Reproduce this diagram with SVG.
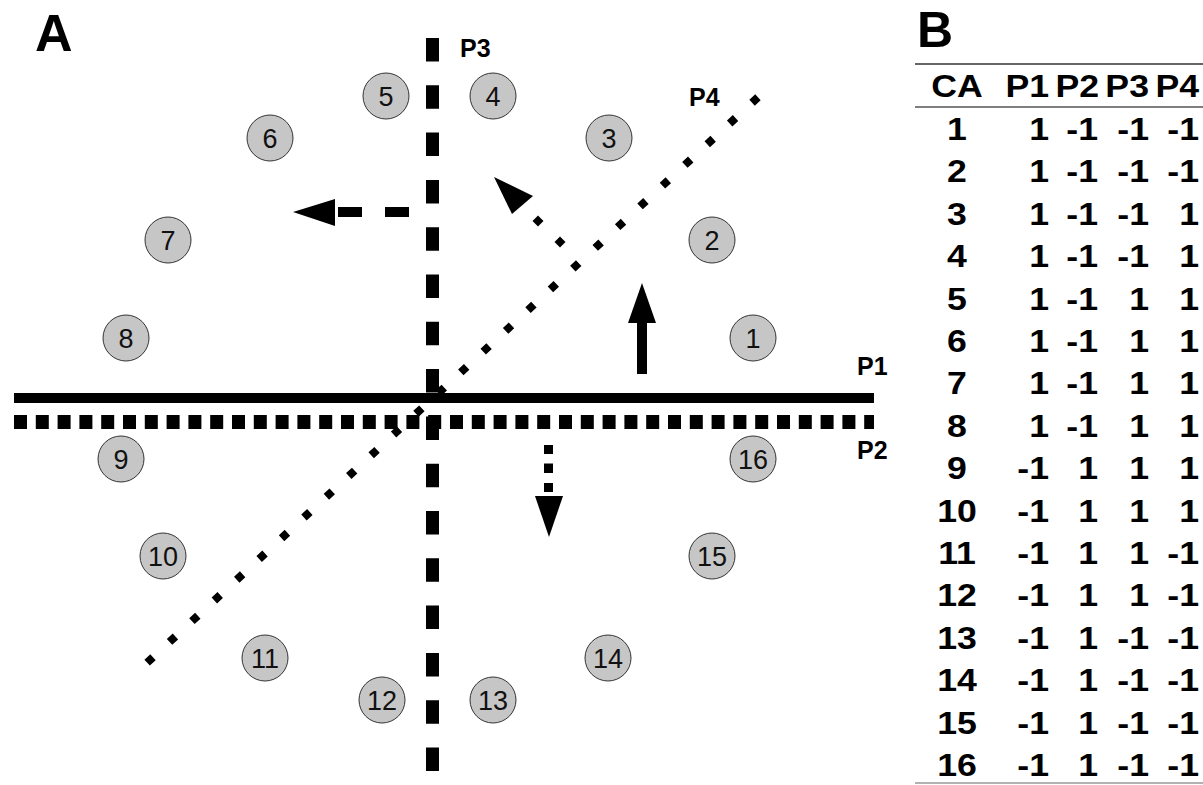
<svg xmlns="http://www.w3.org/2000/svg" width="1203" height="785" viewBox="0 0 1203 785">
<style>
.bg{fill:#fff}
.ca circle{fill:#c6c6c6;stroke:#333;stroke-width:1}
.ca text{font-family:"Liberation Sans",Arial,sans-serif;font-size:27px;fill:#111;text-anchor:middle}
.lbl{font-family:"Liberation Sans",Arial,sans-serif;font-weight:bold;fill:#000}
.plbl{font-size:25px}
.tbl text{font-family:"Liberation Sans",Arial,sans-serif;font-weight:bold;font-size:31px;fill:#000}
.c{text-anchor:middle}
.e{text-anchor:end}
.blk{fill:#000}
</style>
<rect class="bg" x="0" y="0" width="1203" height="785"/>
<text class="lbl" x="35" y="51" font-size="52">A</text>
<text class="lbl" x="917" y="47" font-size="50">B</text>

<g id="connectors">
  <line id="P1" x1="14" y1="398" x2="874" y2="398" stroke="#000" stroke-width="10"/>
  <line id="P2" x1="14" y1="422" x2="874" y2="422" stroke="#000" stroke-width="14" stroke-dasharray="13 8.8"/>
  <line id="P3" x1="432.5" y1="38" x2="432.5" y2="771" stroke="#000" stroke-width="13" stroke-dasharray="23.5 23.8"/>
  <line id="P4" x1="757.94" y1="97.28" x2="147.06" y2="662.72" stroke="#000" stroke-width="8" stroke-dasharray="8 22.53"/>
  <g id="arrow-up">
    <rect class="blk" x="637" y="321" width="10" height="53"/>
    <polygon class="blk" points="642,283 628,323 656,323"/>
  </g>
  <g id="arrow-left">
    <rect class="blk" x="338" y="207" width="24" height="10"/>
    <rect class="blk" x="385" y="207" width="24" height="10"/>
    <polygon class="blk" points="293,212 335,199 335,226"/>
  </g>
  <g id="arrow-diag">
    <polygon class="blk" points="538,215.5 543.5,221 538,226.5 532.5,221"/>
    <polygon class="blk" points="560,236.5 565.5,242 560,247.5 554.5,242"/>
    <polygon class="blk" points="494,177 533,196 512,214"/>
  </g>
  <g id="arrow-down">
    <rect class="blk" x="544" y="445" width="9" height="9"/>
    <rect class="blk" x="544" y="463.5" width="9" height="9.5"/>
    <rect class="blk" x="544" y="483" width="9" height="9"/>
    <polygon class="blk" points="549,537 535,496 563,496"/>
  </g>
</g>

<text class="lbl plbl" x="460" y="57">P3</text>
<text class="lbl plbl" x="689" y="106">P4</text>
<text class="lbl plbl" x="857" y="375">P1</text>
<text class="lbl plbl" x="857" y="459">P2</text>

<g id="ca1" class="ca"><circle cx="753" cy="338" r="23"/><text x="753" y="347.5">1</text></g>
<g id="ca2" class="ca"><circle cx="712" cy="240" r="23"/><text x="712" y="249.5">2</text></g>
<g id="ca3" class="ca"><circle cx="609" cy="138" r="23"/><text x="609" y="147.5">3</text></g>
<g id="ca4" class="ca"><circle cx="493" cy="96" r="23"/><text x="493" y="105.5">4</text></g>
<g id="ca5" class="ca"><circle cx="386" cy="96" r="23"/><text x="386" y="105.5">5</text></g>
<g id="ca6" class="ca"><circle cx="270" cy="138" r="23"/><text x="270" y="147.5">6</text></g>
<g id="ca7" class="ca"><circle cx="168" cy="240" r="23"/><text x="168" y="249.5">7</text></g>
<g id="ca8" class="ca"><circle cx="126" cy="338" r="23"/><text x="126" y="347.5">8</text></g>
<g id="ca9" class="ca"><circle cx="121" cy="459" r="23"/><text x="121" y="468.5">9</text></g>
<g id="ca10" class="ca"><circle cx="163" cy="556" r="23"/><text x="163" y="565.5">10</text></g>
<g id="ca11" class="ca"><circle cx="265" cy="658" r="23"/><text x="265" y="667.5">11</text></g>
<g id="ca12" class="ca"><circle cx="382" cy="700" r="23"/><text x="382" y="709.5">12</text></g>
<g id="ca13" class="ca"><circle cx="493" cy="700" r="23"/><text x="493" y="709.5">13</text></g>
<g id="ca14" class="ca"><circle cx="608" cy="658" r="23"/><text x="608" y="667.5">14</text></g>
<g id="ca15" class="ca"><circle cx="712" cy="556" r="23"/><text x="712" y="565.5">15</text></g>
<g id="ca16" class="ca"><circle cx="753" cy="459" r="23"/><text x="753" y="468.5">16</text></g>

<g id="table">
  <line x1="915" y1="64" x2="1203" y2="64" stroke="#333" stroke-width="1.5"/>
  <line x1="915" y1="107" x2="1203" y2="107" stroke="#555" stroke-width="1.5"/>
  <line x1="915" y1="783" x2="1203" y2="783" stroke="#999" stroke-width="1.5"/>
  <g class="tbl" transform="scale(1.15,1)">
    <text class="c" x="832.2" y="97">CA</text>
    <text class="e" x="912.2" y="97">P1</text>
    <text class="e" x="955.7" y="97">P2</text>
    <text class="e" x="999.1" y="97">P3</text>
    <text class="e" x="1042.6" y="97">P4</text>
    <text class="c"><tspan x="832.2" y="140">1</tspan><tspan x="832.2" y="182.4">2</tspan><tspan x="832.2" y="224.8">3</tspan><tspan x="832.2" y="267.2">4</tspan><tspan x="832.2" y="309.6">5</tspan><tspan x="832.2" y="352">6</tspan><tspan x="832.2" y="394.4">7</tspan><tspan x="832.2" y="436.8">8</tspan><tspan x="832.2" y="479.2">9</tspan><tspan x="832.2" y="521.6">10</tspan><tspan x="832.2" y="564">11</tspan><tspan x="832.2" y="606.4">12</tspan><tspan x="832.2" y="648.8">13</tspan><tspan x="832.2" y="691.2">14</tspan><tspan x="832.2" y="733.6">15</tspan><tspan x="832.2" y="776">16</tspan></text>
    <text class="e"><tspan x="912.2" y="140">1</tspan><tspan x="912.2" y="182.4">1</tspan><tspan x="912.2" y="224.8">1</tspan><tspan x="912.2" y="267.2">1</tspan><tspan x="912.2" y="309.6">1</tspan><tspan x="912.2" y="352">1</tspan><tspan x="912.2" y="394.4">1</tspan><tspan x="912.2" y="436.8">1</tspan><tspan x="912.2" y="479.2">-1</tspan><tspan x="912.2" y="521.6">-1</tspan><tspan x="912.2" y="564">-1</tspan><tspan x="912.2" y="606.4">-1</tspan><tspan x="912.2" y="648.8">-1</tspan><tspan x="912.2" y="691.2">-1</tspan><tspan x="912.2" y="733.6">-1</tspan><tspan x="912.2" y="776">-1</tspan></text>
    <text class="e"><tspan x="954.8" y="140">-1</tspan><tspan x="954.8" y="182.4">-1</tspan><tspan x="954.8" y="224.8">-1</tspan><tspan x="954.8" y="267.2">-1</tspan><tspan x="954.8" y="309.6">-1</tspan><tspan x="954.8" y="352">-1</tspan><tspan x="954.8" y="394.4">-1</tspan><tspan x="954.8" y="436.8">-1</tspan><tspan x="954.8" y="479.2">1</tspan><tspan x="954.8" y="521.6">1</tspan><tspan x="954.8" y="564">1</tspan><tspan x="954.8" y="606.4">1</tspan><tspan x="954.8" y="648.8">1</tspan><tspan x="954.8" y="691.2">1</tspan><tspan x="954.8" y="733.6">1</tspan><tspan x="954.8" y="776">1</tspan></text>
    <text class="e"><tspan x="999.1" y="140">-1</tspan><tspan x="999.1" y="182.4">-1</tspan><tspan x="999.1" y="224.8">-1</tspan><tspan x="999.1" y="267.2">-1</tspan><tspan x="999.1" y="309.6">1</tspan><tspan x="999.1" y="352">1</tspan><tspan x="999.1" y="394.4">1</tspan><tspan x="999.1" y="436.8">1</tspan><tspan x="999.1" y="479.2">1</tspan><tspan x="999.1" y="521.6">1</tspan><tspan x="999.1" y="564">1</tspan><tspan x="999.1" y="606.4">1</tspan><tspan x="999.1" y="648.8">-1</tspan><tspan x="999.1" y="691.2">-1</tspan><tspan x="999.1" y="733.6">-1</tspan><tspan x="999.1" y="776">-1</tspan></text>
    <text class="e"><tspan x="1042.6" y="140">-1</tspan><tspan x="1042.6" y="182.4">-1</tspan><tspan x="1042.6" y="224.8">1</tspan><tspan x="1042.6" y="267.2">1</tspan><tspan x="1042.6" y="309.6">1</tspan><tspan x="1042.6" y="352">1</tspan><tspan x="1042.6" y="394.4">1</tspan><tspan x="1042.6" y="436.8">1</tspan><tspan x="1042.6" y="479.2">1</tspan><tspan x="1042.6" y="521.6">1</tspan><tspan x="1042.6" y="564">-1</tspan><tspan x="1042.6" y="606.4">-1</tspan><tspan x="1042.6" y="648.8">-1</tspan><tspan x="1042.6" y="691.2">-1</tspan><tspan x="1042.6" y="733.6">-1</tspan><tspan x="1042.6" y="776">-1</tspan></text>
  </g>
</g>
</svg>
